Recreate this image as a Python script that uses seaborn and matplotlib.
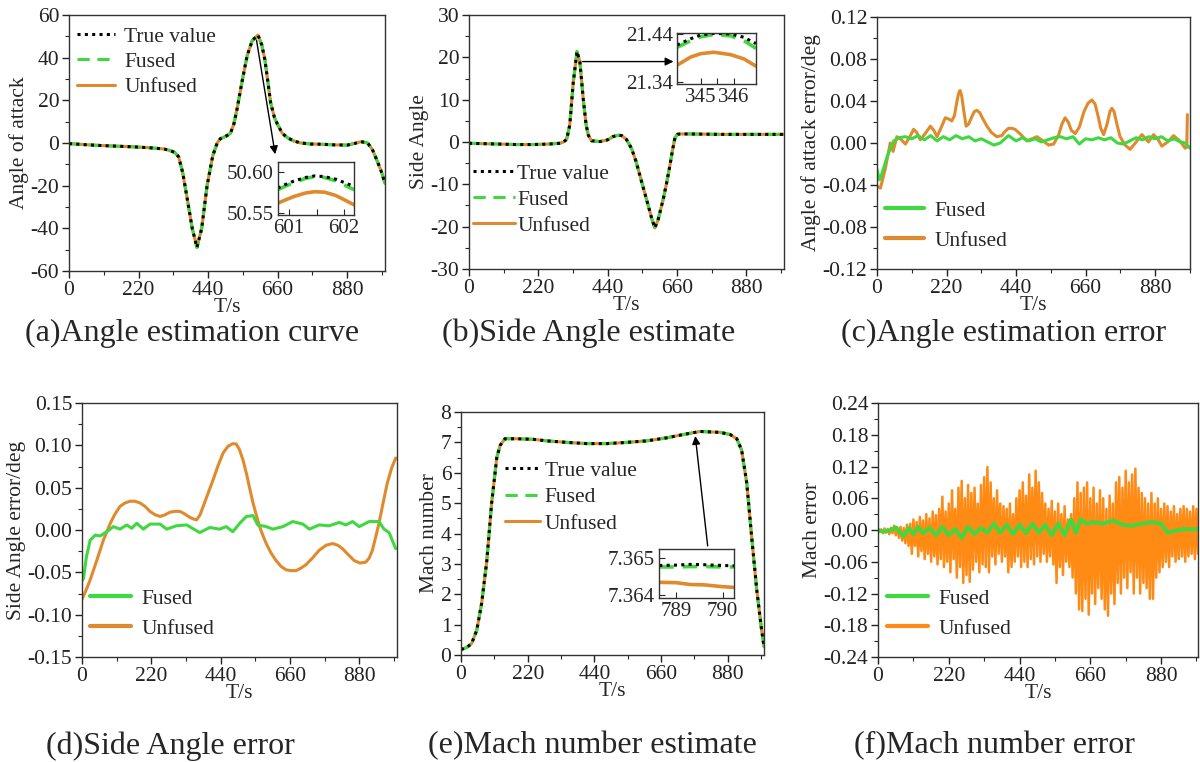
import numpy as np
import matplotlib
matplotlib.use("Agg")
import matplotlib.pyplot as plt
import seaborn as sns
from matplotlib.ticker import MultipleLocator, FormatStrFormatter

sns.set_theme(style="ticks")
plt.rcParams['font.family'] = ['Liberation Serif', 'DejaVu Serif']
plt.rcParams['axes.unicode_minus'] = False

GREEN = '#40d840'
ORANGE = '#e08a2e'
ORANGE_F = '#ff8a14'
DOT = (0, (1, 1.4))
DASH = (0, (4, 2.5))

# (a) angle of attack
aoa_t = [0, 50, 100, 150, 200, 250, 300, 321, 335, 347, 360, 374, 390, 405, 420, 437, 455, 469, 479, 495,
         511, 522, 532, 548, 564, 580, 598, 610, 620, 630, 638, 650, 659, 675, 691, 710, 733, 765, 797, 840,
         881, 905, 924, 945, 960, 977, 990, 1000]
aoa_val = [-0.3, -0.8, -1.2, -1.5, -1.8, -2.2, -2.8, -3.6, -4.5, -6.5, -14, -26, -40, -49, -40, -20, -6, 0, 2, 3,
           4.5, 9, 16, 29, 41, 48, 50.6, 46, 39, 28, 19, 12, 9, 4.5, 2.5, 1, 0, -0.5, -0.6, -0.9,
           -1, -0.2, 0.6, 0, -3, -9, -14, -19]
aoa_zoom_t = [600.79, 600.95, 601.1, 601.3, 601.47, 601.65, 601.85, 602.0, 602.19]
aoa_zoom_true = [50.580, 50.585, 50.589, 50.593, 50.595, 50.594, 50.591, 50.587, 50.582]
aoa_zoom_fused = [50.578, 50.583, 50.587, 50.592, 50.594, 50.593, 50.589, 50.584, 50.578]
aoa_zoom_unfused = [50.5615, 50.566, 50.570, 50.574, 50.5756, 50.575, 50.571, 50.566, 50.5594]

# (b) side angle
ss_t = [0, 50, 100, 150, 204, 250, 289, 300, 310, 320, 331, 343, 352, 363, 372, 379, 389, 416, 440, 458,
        475, 485, 500, 516, 530, 543, 556, 569, 580, 590, 600, 617, 628, 638, 646, 654, 662, 670, 700, 800,
        900, 1000]
ss_val = [-0.3, -0.4, -0.5, -0.6, -0.6, -0.5, -0.3, 0, 0.6, 4, 14, 21.4, 19, 10, 4, 1.6, 0.3, 0.1, 0.5, 1.3,
          1.6, 1.5, 0.6, -1.5, -4.5, -8, -11.5, -15, -18, -20.3, -18.5, -13.4, -9.5, -5.5, -2, 1, 1.8, 1.9, 1.9, 1.8,
          1.8, 1.8]
ss_zoom_t = [344.29, 344.7, 345.0, 345.4, 345.9, 346.3, 346.66]
ss_zoom_true = [21.417, 21.430, 21.438, 21.441, 21.440, 21.433, 21.420]
ss_zoom_fused = [21.412, 21.426, 21.434, 21.439, 21.436, 21.426, 21.410]
ss_zoom_unfused = [21.375, 21.392, 21.399, 21.402, 21.397, 21.388, 21.373]

# (c) angle of attack error
aoa_err_t_unf = [0, 11, 26, 42, 51, 63, 74, 90, 104, 116, 126, 137, 155, 169, 180, 190, 205, 216, 226, 237,
                 245, 252, 258, 263, 268, 275, 282, 290, 300, 308, 316, 325, 335, 348, 362, 379, 395, 405,
                 416, 426, 437, 455, 474, 490, 506, 525, 543, 559, 575, 585, 595, 605, 615, 627, 640, 655,
                 668, 680, 690, 700, 708, 717, 728, 737, 743, 750, 759, 769, 785, 801, 820, 838, 850, 859,
                 868, 875, 890, 901, 920, 938, 958, 975, 980, 982]
aoa_err_unf = [-0.041, -0.043, -0.025, 0.0, -0.008, 0.006, 0.004, -0.001, 0.006, 0.013, 0.010, 0.003, 0.010,
               0.016, 0.012, 0.006, 0.016, 0.024, 0.023, 0.021, 0.026, 0.038, 0.047, 0.05, 0.045, 0.030,
               0.016, 0.018, 0.025, 0.030, 0.031, 0.029, 0.023, 0.016, 0.010, 0.006, 0.007, 0.011, 0.014,
               0.014, 0.013, 0.008, 0.002, 0.004, 0.006, 0.002, -0.002, -0.001, 0.008, 0.018, 0.024, 0.020,
               0.012, 0.009, 0.015, 0.030, 0.038, 0.041, 0.037, 0.025, 0.014, 0.008, 0.018, 0.030, 0.033,
               0.030, 0.018, 0.006, -0.002, -0.006, 0.001, 0.008, 0.004, 0.001, 0.005, 0.008, 0.003,
               -0.003, 0.001, 0.007, 0.002, -0.005, -0.004, 0.027]
aoa_err_t_fus = [0, 8, 15, 32, 53, 70, 90, 110, 130, 150, 170, 190, 210, 230, 250, 270, 290, 310, 330, 350,
                 370, 390, 416, 440, 460, 480, 500, 520, 540, 560, 580, 600, 620, 640, 660, 680, 700, 720, 740,
                 760, 780, 800, 820, 840, 860, 880, 900, 920, 940, 960, 975, 990]
aoa_err_fus = [-0.025, -0.035, -0.03, -0.013, 0.002, 0.005, 0.006, 0.004, 0.007, 0.003,
               0.007, 0.002, 0.006, 0.003, 0.007, 0.004, 0.006, 0.002, 0.004, 0.001,
               -0.002, 0.0, 0.007, 0.002, 0.005, 0.002, 0.004, 0.001, 0.003, 0.005,
               0.006, 0.004, 0.006, -0.001, 0.004, 0.003, 0.005, 0.003, 0.005, 0.0,
               -0.001, 0.002, 0.005, 0.003, 0.006, 0.004, 0.006, 0.002, 0.004, 0.001,
               0.0, -0.005]

# (d) side angle error
ss_err_t_unf = [0, 13, 26, 47, 68, 90, 105, 121, 137, 153, 168, 184, 200, 216, 232, 248, 264, 279, 295, 311,
                326, 342, 354, 364, 375, 385, 400, 416, 432, 448, 464, 479, 490, 500, 511, 522, 532, 543,
                554, 564, 575, 585, 600, 616, 632, 648, 664, 680, 695, 711, 732, 753, 775, 796, 812, 827,
                845, 864, 882, 901, 912, 922, 932, 943, 956, 969, 983, 996]
ss_err_unf = [-0.082, -0.071, -0.059, -0.036, -0.012, 0.008, 0.019, 0.028, 0.032, 0.034, 0.034, 0.032, 0.028,
              0.022, 0.018, 0.016, 0.018, 0.021, 0.022, 0.022, 0.019, 0.015, 0.013, 0.012, 0.018, 0.028,
              0.043, 0.059, 0.076, 0.091, 0.099, 0.102, 0.1015, 0.095, 0.083, 0.067, 0.05, 0.032, 0.017,
              0.004, -0.007, -0.016, -0.027, -0.036, -0.043, -0.047, -0.048, -0.048, -0.045, -0.041,
              -0.033, -0.024, -0.018, -0.016, -0.018, -0.022, -0.029, -0.036, -0.039, -0.038, -0.033,
              -0.024, -0.009, 0.008, 0.032, 0.055, 0.073, 0.085]
ss_err_t_fus = [0, 5, 14, 26, 42, 58, 79, 100, 121, 142, 158, 174, 195, 216, 248, 269, 300, 332, 374, 406,
                437, 458, 479, 501, 522, 543, 558, 585, 606, 638, 669, 701, 722, 753, 785, 817, 838, 859, 880,
                912, 943, 959, 975, 996]
ss_err_fus = [-0.06, -0.057, -0.032, -0.012, -0.006, -0.007, -0.002, 0.004, 0.001, 0.006,
              0.002, 0.008, 0.001, 0.007, 0.007, 0.001, 0.005, 0.006, -0.003, 0.003,
              0.001, 0.004, -0.002, 0.008, 0.016, 0.017, 0.006, 0.004, 0.001, 0.004,
              0.01, 0.007, 0.001, 0.006, 0.005, 0.009, 0.006, 0.01, 0.004, 0.01,
              0.01, 0.001, -0.003, -0.022]

# (e) Mach number
mach_t = [0, 19, 35, 52, 68, 85, 101, 118, 129, 145, 184, 239, 283, 349, 415, 481, 547, 613, 679, 734,
          789, 855, 888, 910, 926, 943, 959, 976, 992, 1000]
mach_val = [0.18, 0.25, 0.38, 0.82, 1.7, 3.1, 5.0, 6.5, 6.9, 7.12, 7.12, 7.1, 7.05, 7.0, 6.96, 6.96, 7.0,
            7.05, 7.15, 7.26, 7.36, 7.33, 7.26, 7.12, 6.75, 5.66, 3.9, 2.14, 0.82, 0.27]
mach_zoom_t = [788.64, 789.0, 789.3, 789.6, 790.0, 790.25]
mach_zoom_true = [7.36480, 7.36481, 7.36483, 7.36482, 7.36480, 7.36479]
mach_zoom_fused = [7.36476, 7.36476, 7.36477, 7.36477, 7.36476, 7.36476]
mach_zoom_unfused = [7.36434, 7.36433, 7.36428, 7.36427, 7.36422, 7.36420]

# (f) Mach error (unfused sampled every 5 s)
mach_err_unf = [0.002, -0.004, 0.001, -0.006, 0.003, -0.005, 0.002, -0.008, 0.004, -0.006,
                0.008, -0.01, 0.005, -0.015, 0.006, -0.02, 0.004, -0.025, 0.01, -0.03,
                0.012, -0.045, 0.02, -0.03, 0.015, -0.05, 0.025, -0.04, 0.018, -0.055,
                0.03, -0.045, 0.022, -0.06, 0.035, -0.05, 0.028, -0.065, 0.04, -0.055,
                0.063, -0.07, 0.035, -0.06, 0.05, -0.08, 0.075, -0.055, 0.04, -0.09,
                0.08, -0.07, 0.093, -0.1, 0.06, -0.085, 0.085, -0.098, 0.07, -0.075,
                0.08, -0.06, 0.05, -0.08, 0.085, -0.065, 0.1, -0.07, 0.119, -0.08,
                0.09, -0.05, 0.06, -0.065, 0.075, -0.045, 0.05, -0.06, 0.045, -0.05,
                0.04, -0.08, 0.05, -0.07, 0.03, -0.06, 0.06, -0.05, 0.075, -0.07,
                0.09, -0.06, 0.065, -0.07, 0.105, -0.055, 0.08, -0.065, 0.112, -0.05,
                0.09, -0.06, 0.07, -0.045, 0.05, -0.06, 0.04, -0.05, 0.055, -0.065,
                0.035, -0.1, 0.05, -0.07, 0.03, -0.085, 0.045, -0.06, 0.02, -0.07,
                0.03, -0.09, 0.06, -0.12, 0.09, -0.15, 0.07, -0.153, 0.08, -0.13,
                0.09, -0.16, 0.06, -0.12, 0.08, -0.14, 0.05, -0.11, 0.075, -0.13,
                0.06, -0.15, 0.04, -0.162, 0.065, -0.12, 0.05, -0.14, 0.09, -0.1,
                0.1, -0.12, 0.08, -0.09, 0.112, -0.11, 0.09, -0.08, 0.105, -0.12,
                0.116, -0.09, 0.08, -0.12, 0.07, -0.1, 0.06, -0.11, 0.05, -0.13,
                0.07, -0.13, 0.05, -0.09, 0.06, -0.08, 0.04, -0.07, 0.05, -0.06,
                0.045, -0.07, 0.035, -0.05, 0.045, -0.06, 0.03, -0.055, 0.04, -0.05,
                0.045, -0.06, 0.04, -0.05, 0.035, -0.045, 0.045, -0.055, 0.04, -0.045]
mach_err_t_unf = np.arange(len(mach_err_unf)) * 5
mach_err_t_fus = [0, 20, 40, 55, 65, 80, 95, 110, 125, 140, 160, 180, 200, 220, 240, 260, 280, 300, 320, 340,
                  360, 380, 400, 420, 440, 460, 480, 500, 520, 540, 560, 580, 600, 615, 630, 650, 670, 700, 730,
                  760, 790, 820, 850, 880, 900, 920, 950, 980, 1000]
mach_err_fus = [0, -0.003, 0, 0.005, -0.002, -0.012, 0.004, -0.008, 0.006, -0.006,
                0.004, -0.01, 0.006, -0.01, 0.002, -0.015, 0.006, -0.008, 0.004, -0.005,
                0.012, -0.005, 0.01, -0.008, 0.01, -0.006, 0.012, -0.005, 0.01, -0.01,
                0.012, -0.01, 0.02, -0.005, 0.02, 0.012, 0.015, 0.012, 0.018, 0.01,
                0.008, 0.012, 0.015, 0.012, -0.005, -0.002, 0.002, 0.001, 0.002]

FS = 15.5


def line(ax, x, y, color, ls='-', lw=2.0, label=None):
    sns.lineplot(x=x, y=y, ax=ax, color=color, linestyle=ls, linewidth=lw, label=label,
                 estimator=None, sort=False)


def style(ax, xmax, ylim, ymaj, fmt):
    ax.set_xlim(0, xmax)
    ax.set_ylim(*ylim)
    ax.xaxis.set_major_locator(MultipleLocator(220))
    ax.xaxis.set_minor_locator(MultipleLocator(110))
    ax.yaxis.set_major_locator(MultipleLocator(ymaj))
    ax.yaxis.set_minor_locator(MultipleLocator(ymaj / 2))
    ax.yaxis.set_major_formatter(FormatStrFormatter(fmt))
    ax.tick_params(which='major', direction='out', length=5, width=1, labelsize=FS, pad=2,
                   top=False, right=False, colors='#222')
    ax.tick_params(which='minor', direction='out', length=3, width=0.8, top=False, right=False)
    for s in ax.spines.values():
        s.set_linewidth(1)
        s.set_color('#333')
    ax.set_xlabel('T/s', fontsize=FS, labelpad=-1)


def legend(ax, x, y, spacing, hlen, pad, lw=None):
    h, l = ax.get_legend_handles_labels()
    leg = ax.legend(h[::-1], l[::-1], loc='upper left', bbox_to_anchor=(x, y), frameon=False,
                    fontsize=FS, handlelength=hlen, handletextpad=pad, labelspacing=spacing,
                    borderpad=0, borderaxespad=0)
    if lw:
        for ln in leg.get_lines():
            ln.set_linewidth(lw)
    return leg


def inset(rect, t, true, fused, unfused, xt, yt, xlim, ylim, fmt, xminor=None):
    ia = fig.add_axes(rect)
    ia.set_facecolor('white')
    line(ia, t, unfused, ORANGE, lw=2.6)
    line(ia, t, fused, GREEN, ls=DASH, lw=2.6)
    line(ia, t, true, 'black', ls=DOT, lw=2.2)
    ia.set_xlim(*xlim)
    ia.set_ylim(*ylim)
    ia.set_xticks(xt)
    ia.set_yticks(yt)
    if xminor is not None:
        ia.set_xticks(xminor, minor=True)
    ia.yaxis.set_major_formatter(FormatStrFormatter(fmt))
    ia.xaxis.set_major_formatter(FormatStrFormatter('%d'))
    ia.tick_params(which='both', direction='in', length=4, width=0.8, labelsize=15, pad=3,
                   top=False, right=False)
    for s in ia.spines.values():
        s.set_linewidth(1)
        s.set_color('#333')
    return ia


fig = plt.figure(figsize=(12, 7.62), dpi=100)

# (a)
ax = fig.add_axes([0.0575, 0.6444, 0.2633, 0.3360])
line(ax, aoa_t, aoa_val, ORANGE, lw=2.2, label='Unfused')
line(ax, aoa_t, aoa_val, GREEN, ls=DASH, lw=2.2, label='Fused')
line(ax, aoa_t, aoa_val, 'black', ls=DOT, lw=2.2, label='True value')
style(ax, 1000, (-60, 60), 20, '%d')
ax.set_ylabel('Angle of attack', fontsize=FS, labelpad=1)
legend(ax, 0.025, 0.955, 0.25, 1.75, 0.45)
ax.annotate('', xy=(654, -6.6), xytext=(592, 49.5),
            arrowprops=dict(arrowstyle='-|>', color='black', lw=1, mutation_scale=12))
inset([0.2314, 0.7178, 0.0638, 0.0696], aoa_zoom_t, aoa_zoom_true, aoa_zoom_fused, aoa_zoom_unfused,
      [601, 602], [50.55, 50.60], (600.79, 602.19), (50.547, 50.612), '%.2f', xminor=[601.5])

# (b)
ax = fig.add_axes([0.3908, 0.6470, 0.2625, 0.3333])
line(ax, ss_t, ss_val, ORANGE, lw=2.2, label='Unfused')
line(ax, ss_t, ss_val, GREEN, ls=DASH, lw=2.2, label='Fused')
line(ax, ss_t, ss_val, 'black', ls=DOT, lw=2.2, label='True value')
style(ax, 1000, (-30, 30), 10, '%d')
ax.set_ylabel('Side Angle', fontsize=FS, labelpad=1)
legend(ax, 0.013, 0.415, 0.28, 1.95, 0.1)
ax.annotate('', xy=(658, 19.0), xytext=(352, 19.0),
            arrowprops=dict(arrowstyle='-|>', color='black', lw=1, mutation_scale=12))
inset([0.5642, 0.8898, 0.0658, 0.0669], ss_zoom_t, ss_zoom_true, ss_zoom_fused, ss_zoom_unfused,
      [345, 346], [21.34, 21.44], (344.29, 346.66), (21.336, 21.442), '%.2f', xminor=[345.5])

# (c)
ax = fig.add_axes([0.7308, 0.6470, 0.2608, 0.3307])
line(ax, aoa_err_t_unf, aoa_err_unf, ORANGE, lw=2.2, label='Unfused')
line(ax, aoa_err_t_fus, aoa_err_fus, GREEN, lw=2.2, label='Fused')
style(ax, 990, (-0.12, 0.12), 0.04, '%.2f')
ax.set_ylabel('Angle of attack error/deg', fontsize=FS, labelpad=1)
legend(ax, 0.026, 0.27, 0.45, 1.8, 0.5, lw=3)

# (d)
ax = fig.add_axes([0.0683, 0.1378, 0.2625, 0.3333])
line(ax, ss_err_t_unf, ss_err_unf, ORANGE, lw=2.2, label='Unfused')
line(ax, ss_err_t_fus, ss_err_fus, GREEN, lw=2.2, label='Fused')
style(ax, 1000, (-0.15, 0.15), 0.05, '%.2f')
ax.set_ylabel('Side Angle error/deg', fontsize=FS, labelpad=1)
legend(ax, 0.025, 0.268, 0.45, 1.9, 0.5, lw=3)

# (e)
ax = fig.add_axes([0.3842, 0.1404, 0.2525, 0.3189])
line(ax, mach_t, mach_val, ORANGE, lw=2.2, label='Unfused')
line(ax, mach_t, mach_val, GREEN, ls=DASH, lw=2.2, label='Fused')
line(ax, mach_t, mach_val, 'black', ls=DOT, lw=2.2, label='True value')
style(ax, 1000, (0, 8), 1, '%d')
ax.set_ylabel('Mach number', fontsize=FS, labelpad=1)
legend(ax, 0.145, 0.8, 0.3, 1.65, 0.2)
ax.annotate('', xy=(772, 7.3), xytext=(815, 3.5),
            arrowprops=dict(arrowstyle='-|>', color='black', lw=1, mutation_scale=12))
inset([0.5494, 0.2152, 0.0625, 0.0643], mach_zoom_t, mach_zoom_true, mach_zoom_fused, mach_zoom_unfused,
      [789, 790], [7.364, 7.365], (788.64, 790.25), (7.36391, 7.36525), '%.3f')

# (f)
ax = fig.add_axes([0.7317, 0.1378, 0.2667, 0.3333])
line(ax, mach_err_t_unf, mach_err_unf, ORANGE_F, lw=1.8, label='Unfused')
line(ax, mach_err_t_fus, mach_err_fus, GREEN, lw=2.8, label='Fused')
style(ax, 995, (-0.24, 0.24), 0.06, '%.2f')
ax.set_ylabel('Mach error', fontsize=FS, labelpad=1)
legend(ax, 0.028, 0.268, 0.45, 1.9, 0.5, lw=3)

# captions
captions = ['(a)Angle estimation curve', '(b)Side Angle estimate', '(c)Angle estimation error',
            '(d)Side Angle error', '(e)Mach number estimate', '(f)Mach number error']
cap_x = [192, 589, 1004, 170, 592, 994]
cap_y = [333, 333, 333, 746, 746, 746]
for txt, cx, cy in zip(captions, cap_x, cap_y):
    fig.text(cx / 1200, 1 - cy / 762, txt, ha='center', va='center', fontsize=23)

fig.savefig('out.png', dpi=100)
